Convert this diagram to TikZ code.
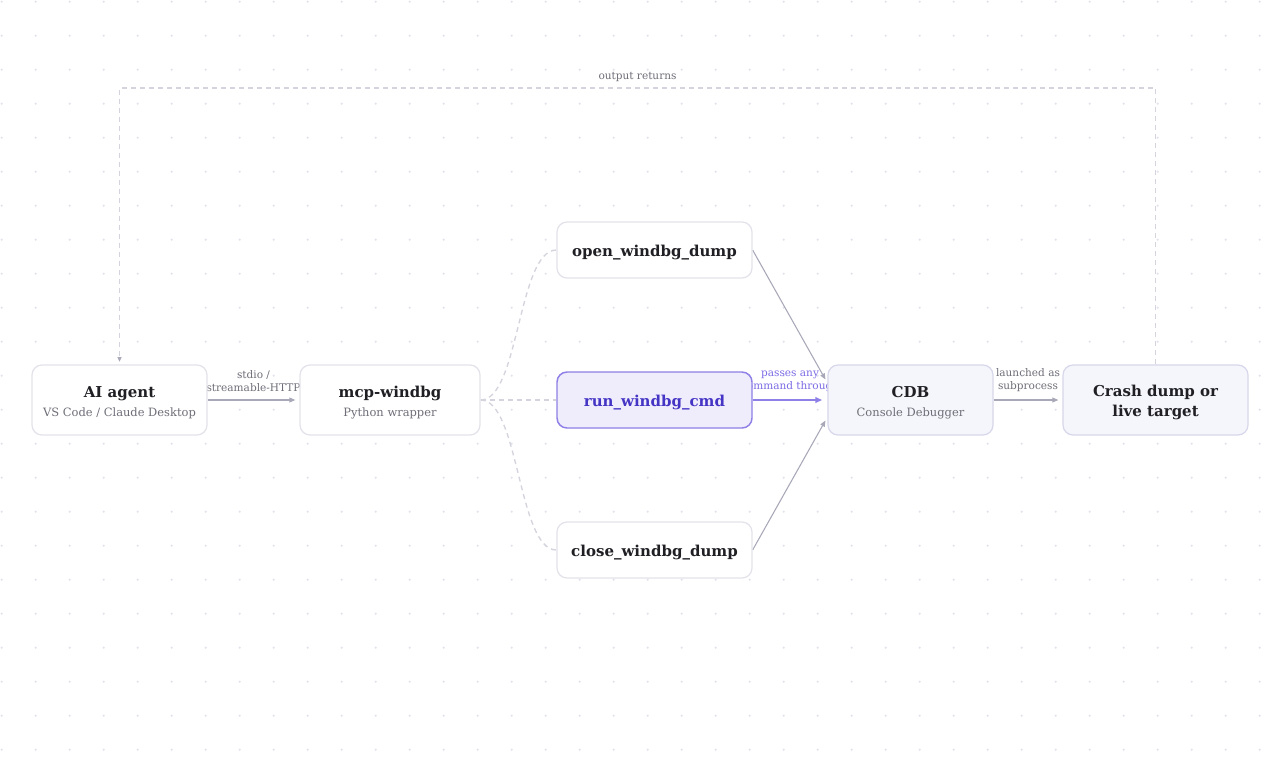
\documentclass[tikz,border=0pt]{standalone}
\usepackage{fontspec}
\setmainfont{DejaVu Serif}
\usepackage{xcolor}
\usepackage{tikz}
\usetikzlibrary{arrows.meta,positioning,backgrounds}
\definecolor{InkC}{RGB}{31,31,36}
\definecolor{SubC}{RGB}{110,110,120}
\definecolor{EdgeC}{RGB}{168,168,184}
\definecolor{DashC}{RGB}{212,212,222}
\definecolor{LineC}{RGB}{226,226,234}
\definecolor{DotC}{RGB}{226,226,236}
\definecolor{SoftC}{RGB}{245,246,251}
\definecolor{CmdC}{RGB}{69,53,197}
\definecolor{CmdLine}{RGB}{142,128,230}
\definecolor{CmdFill}{RGB}{239,236,252}
\definecolor{CmdLbl}{RGB}{123,107,229}
\pgfdeclarelayer{dots}
\pgfsetlayers{dots,background,main}
\newcommand{\titlef}{\fontsize{11.25}{15}\selectfont\bfseries\color{InkC}}
\newcommand{\subf}{\fontsize{8.6}{15}\selectfont\color{SubC}}
\newcommand{\upstrut}{\rule{0pt}{12.5pt}}
\newcommand{\boxtext}[2]{{\titlef\upstrut #1}\\[2.2pt]{\subf #2}}
\tikzset{
  box/.style={rectangle,rounded corners=7.5pt,draw=LineC,fill=white,line width=0.9pt,
              align=center,inner sep=2pt,minimum height=52.5pt},
  tool/.style={box,minimum width=146.25pt,minimum height=42pt,font=\titlef,
               execute at begin node={\upstrut}},
  soft/.style={box,fill=SoftC,draw=LineC!95!blue},
  cmd/.style={tool,draw=CmdLine,fill=CmdFill,line width=1.1pt,
              font=\fontsize{11.25}{15}\selectfont\bfseries\color{CmdC}},
  flow/.style={-{Triangle[length=4.5pt,width=3.6pt]},EdgeC,line width=0.8pt,shorten >=3pt},
  cmdflow/.style={-{Triangle[length=5pt,width=4.2pt]},CmdLine,line width=1.2pt,shorten >=4pt},
  fan/.style={DashC,line width=1pt,dash pattern=on 3.75pt off 3pt},
  back/.style={fan,-{Triangle[length=3.5pt,width=3pt,color=EdgeC]},shorten >=2pt},
  elabel/.style={font=\fontsize{7.9}{9.75}\selectfont,text=SubC,align=center,inner sep=2pt},
}
\begin{document}
\begin{tikzpicture}[x=0.75pt,y=-0.75pt]
  \useasboundingbox (0,0) rectangle (1280,760);
  \begin{pgfonlayer}{dots}
    \fill[white] (0,0) rectangle (1280,760);
    \foreach \i in {0,...,37}
      \foreach \j in {0,...,22}
        \fill[DotC] (1.7+34*\i,1.7+34*\j) circle (1.2);
  \end{pgfonlayer}
  % nodes
  \node[box,minimum width=131.25pt] (agent) at (119.5,400) {\boxtext{AI agent}{VS Code / Claude Desktop}};
  \node[box,minimum width=135pt,right=68.85pt of agent] (mcp) {\boxtext{mcp-windbg}{Python wrapper}};
  \node[cmd,right=56.75pt of mcp] (run) {run\_windbg\_cmd};
  \node[tool,above=69.5pt of run] (open) {open\_windbg\_dump};
  \node[tool,below=69.5pt of run] (close) {close\_windbg\_dump};
  \node[soft,minimum width=123.75pt,right=56pt of run] (cdb) {\boxtext{CDB}{Console Debugger}};
  \node[soft,minimum width=138.75pt,right=51.6pt of cdb,font=\titlef] (crash) {\upstrut Crash dump or\\live target};
  % connectors
  \begin{scope}[on background layer]
    \draw[flow] (agent) -- node[elabel,above=4pt] {stdio /\\streamable-HTTP} (mcp);
    \draw[fan] (mcp.east) .. controls +(38.5,0) and +(-38.5,0) .. (open.west);
    \draw[fan] (mcp.east) -- (run.west);
    \draw[fan] (mcp.east) .. controls +(38.5,0) and +(-38.5,0) .. (close.west);
    \draw[flow] (open.east) -- ([yshift=12.75pt]cdb.west);
    \draw[flow] (close.east) -- ([yshift=-12.75pt]cdb.west);
    \draw[cmdflow] (run) -- node[elabel,above=3.5pt,text=CmdLbl] {passes any\\command through} (cdb);
    \draw[flow] (cdb) -- node[elabel,above=4pt] {launched as\\subprocess} (crash);
    \coordinate (top) at (637,88);
    \draw[back] (crash.north) -- (crash.north |- top)
      -- node[elabel,above=2pt] {output returns} (agent.north |- top) -- (agent.north);
  \end{scope}
\end{tikzpicture}
\end{document}
